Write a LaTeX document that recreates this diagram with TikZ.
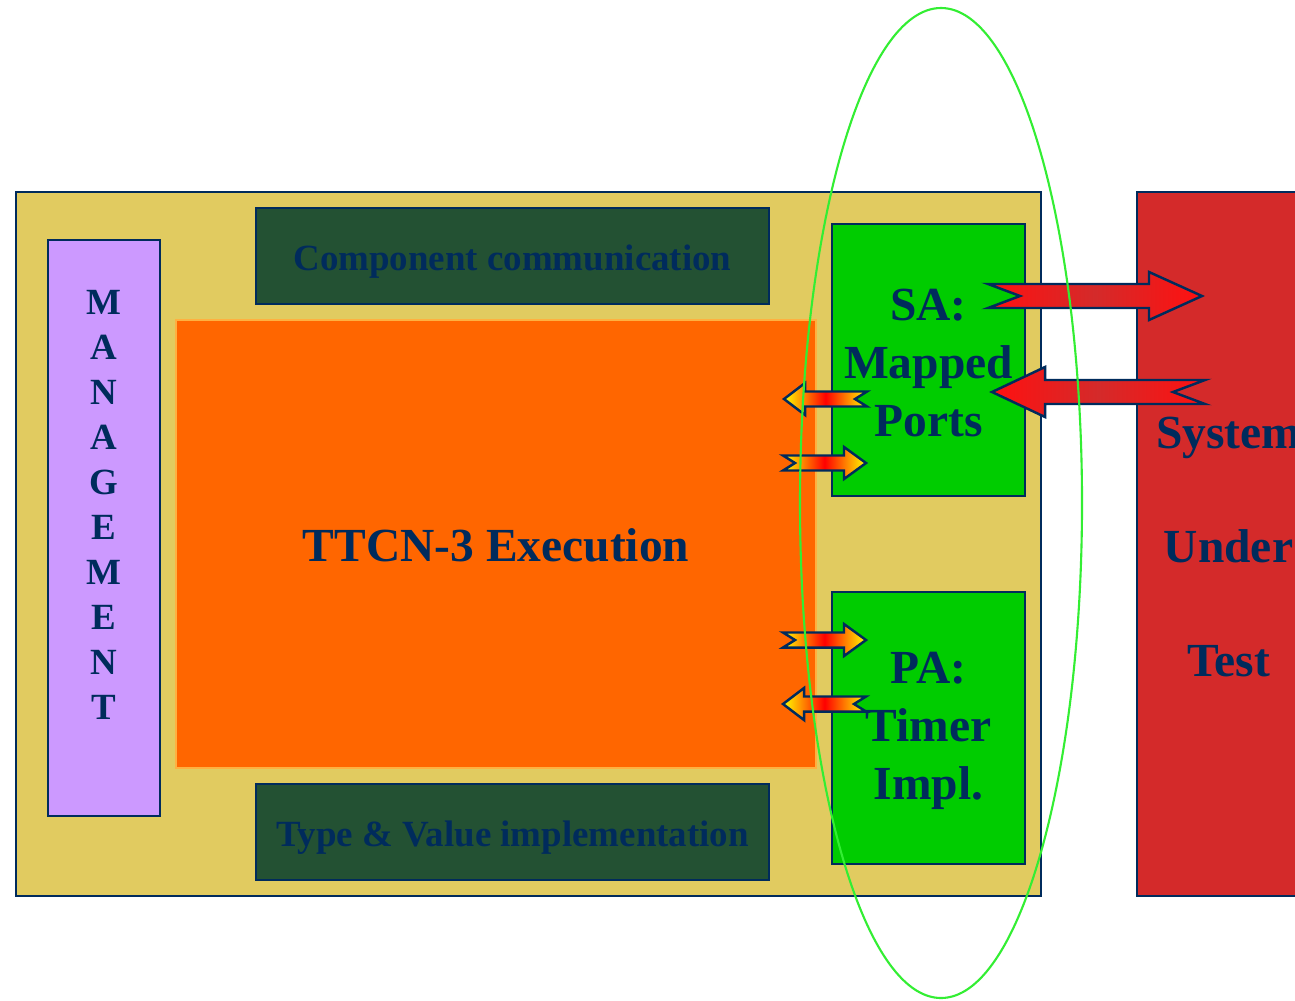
\documentclass[tikz,border=0pt]{standalone}
\usepackage{fontspec}
\setmainfont{Liberation Serif}
\usepackage{tikz}
\usetikzlibrary{calc}
\definecolor{ttnavy}{HTML}{002B5C}
\definecolor{ttsand}{HTML}{E1CB60}
\definecolor{ttlilac}{HTML}{CC99FF}
\definecolor{ttforest}{HTML}{235133}
\definecolor{ttorange}{HTML}{FF6600}
\definecolor{ttamber}{HTML}{FFB040}
\definecolor{ttgreen}{HTML}{00CC00}
\definecolor{ttred}{HTML}{D42A2A}
\definecolor{ttbright}{HTML}{FF1010}
\definecolor{ttlime}{HTML}{33EE33}

% notched block arrow: style, tail, tip, shaft half, head half, head length, notch
\newcommand{\notcharrow}[7]{%
  \path[#1] let \p1=(#2), \p2=(#3), \p3=($(#3)!#6!(#2)$), \p4=($(#2)!#7!(#3)$) in
    (\x1,\y1+#4) -- (\x3,\y1+#4) -- (\x3,\y1+#5) -- (\p2) -- (\x3,\y1-#5)
    -- (\x3,\y1-#4) -- (\x1,\y1-#4) -- (\p4) -- cycle;}

\begin{document}
\begin{tikzpicture}[x=0.01cm,y=-0.01cm,
    box/.style={draw=ttnavy,line width=0.6pt,inner sep=0pt},
    bigtext/.style={text=ttnavy,font=\fontsize{13.5}{16.5}\selectfont\bfseries,align=center},
    smalltext/.style={text=ttnavy,font=\fontsize{10.5}{12.8}\selectfont\bfseries,align=center},
    portarrow/.style={draw=ttnavy,line width=0.7pt,left color=yellow,right color=yellow,middle color=red},
    sutarrow/.style={draw=ttnavy,line width=0.7pt,left color=ttbright,right color=ttbright,middle color=ttred}]
  \clip (0,0) rectangle (1295,1000);
  \fill[white] (0,0) rectangle (1295,1000);

  \node[box,fill=ttsand,minimum width=102.5mm,minimum height=70.4mm] (tsi) at (528.5,544) {};
  \node[box,fill=ttlilac,minimum width=11.2mm,minimum height=57.6mm] (mgmt) at (104,528) {};
  \node[box,fill=ttforest,minimum width=51.3mm,minimum height=9.6mm] (cc) at (512.5,256) {};
  \node[box,draw=ttamber,fill=ttorange,minimum width=64mm,minimum height=44.8mm] (exec) at (496,544) {};
  \node[box,fill=ttforest,minimum width=51.3mm,minimum height=9.6mm] (tv) at (512.5,832) {};
  \node[box,fill=ttgreen,minimum width=19.3mm,minimum height=27.2mm] (sa) at (928.5,360) {};
  \node[box,fill=ttgreen,minimum width=19.3mm,minimum height=27.2mm] (pa) at (928.5,728) {};
  \node[box,fill=ttred,minimum width=18.3mm,minimum height=70.4mm] (sut) at (1228.5,544) {};

  \node[smalltext] (mgmttext) at ([yshift=2.3mm]mgmt.center) {M\\A\\N\\A\\G\\E\\M\\E\\N\\T};
  \node[smalltext] (cctext) at ([yshift=-0.6mm]cc.center) {Component communication};
  \node[bigtext] (exectext) at ([yshift=-0.1mm]exec.center) {TTCN-3 Execution};
  \node[smalltext] (tvtext) at ([yshift=-0.6mm]tv.center) {Type \& Value implementation};
  \node[bigtext] (satext) at ([yshift=-0.3mm]sa.center) {SA:\\Mapped\\Ports};
  \node[bigtext] (patext) at ([yshift=-0.3mm]pa.center) {PA:\\Timer\\Impl.};
  \node[bigtext,font=\fontsize{13.5}{32.5}\selectfont\bfseries] (suttext) at ([yshift=-0.3mm]sut.center) {System\\Under\\Test};

  % ports between execution and adapters
  \coordinate (a1l) at (784,399);  \coordinate (a1r) at (867,399);
  \coordinate (a2l) at (783,463);  \coordinate (a2r) at (866,463);
  \coordinate (a3l) at (783,640);  \coordinate (a3r) at (866,640);
  \coordinate (a4l) at (783,704);  \coordinate (a4r) at (866,704);
  \notcharrow{portarrow}{a1r}{a1l}{0.075cm}{0.16cm}{0.21cm}{0.12cm}
  \notcharrow{portarrow}{a2l}{a2r}{0.075cm}{0.16cm}{0.22cm}{0.12cm}
  \notcharrow{portarrow}{a3l}{a3r}{0.075cm}{0.16cm}{0.22cm}{0.12cm}
  \notcharrow{portarrow}{a4r}{a4l}{0.075cm}{0.16cm}{0.21cm}{0.12cm}

  % adapter to system under test
  \coordinate (s1l) at (988,296);  \coordinate (s1r) at (1202,296);
  \coordinate (s2l) at (992,392);  \coordinate (s2r) at (1205,392);
  \notcharrow{sutarrow}{s1l}{s1r}{0.12cm}{0.24cm}{0.53cm}{0.32cm}
  \notcharrow{sutarrow}{s2r}{s2l}{0.12cm}{0.25cm}{0.53cm}{0.32cm}

  \draw[ttlime,line width=0.6pt] (941,503) ellipse [x radius=141,y radius=495];
\end{tikzpicture}
\end{document}
